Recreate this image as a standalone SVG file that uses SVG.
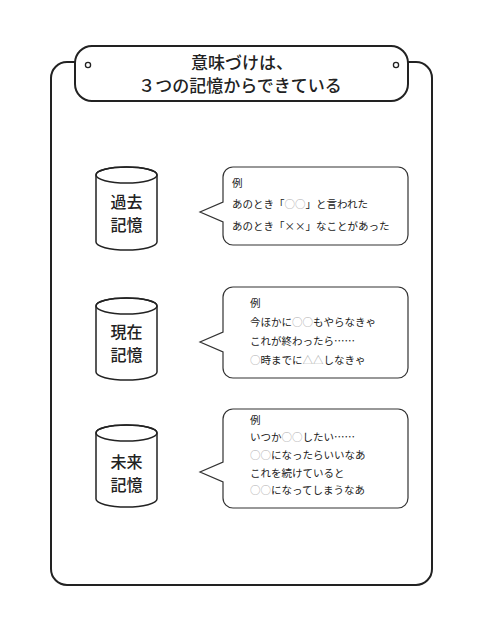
<svg xmlns="http://www.w3.org/2000/svg" width="480" height="639" viewBox="0 0 480 639">
<style>
.jp{font-family:"Noto Sans CJK JP","Noto Sans",sans-serif;fill:#222}
.title{font-size:17px;text-anchor:middle;font-weight:500}
.cyl{fill:#fff;stroke:#222;stroke-width:1.5}
.cl{font-size:16px;text-anchor:middle;font-weight:500}
.bub{fill:#fff;stroke:#333;stroke-width:1.2}
.bt{font-size:10.5px}
.g{fill:#aaa}
</style>
<rect width="480" height="639" fill="#fff"/>
<g id="frame">
<rect x="51" y="62" width="381" height="523" rx="16" fill="#fff" stroke="#222" stroke-width="2"/>
</g>
<g id="header">
<rect x="75" y="46" width="333" height="55" rx="17" fill="#fff" stroke="#222" stroke-width="2"/>
<circle cx="88" cy="65" r="2.6" fill="#fff" stroke="#222" stroke-width="1.3"/>
<circle cx="396" cy="65" r="2.6" fill="#fff" stroke="#222" stroke-width="1.3"/>
<text class="jp title" x="242" y="69">意味づけは、</text>
<text class="jp title" x="240" y="92">３つの記憶からできている</text>
</g>
<g id="past">
<path class="cyl" d="M96,175 L96,242 A30.5,8 0 0 0 157,242 L157,175 A30.5,8 0 0 0 96,175 Z"/>
<ellipse cx="126.5" cy="175" rx="30.5" ry="8" fill="none" stroke="#222" stroke-width="1.5"/>
<text class="jp cl" x="126.5" y="208">過去</text>
<text class="jp cl" x="126.5" y="231">記憶</text>
</g>
<g id="present">
<path class="cyl" d="M96,306 L96,372 A30.5,8 0 0 0 157,372 L157,306 A30.5,8 0 0 0 96,306 Z"/>
<ellipse cx="126.5" cy="306" rx="30.5" ry="8" fill="none" stroke="#222" stroke-width="1.5"/>
<text class="jp cl" x="126.5" y="338">現在</text>
<text class="jp cl" x="126.5" y="361">記憶</text>
</g>
<g id="future">
<path class="cyl" d="M96,433 L96,499 A30.5,8 0 0 0 157,499 L157,433 A30.5,8 0 0 0 96,433 Z"/>
<ellipse cx="126.5" cy="433" rx="30.5" ry="8" fill="none" stroke="#222" stroke-width="1.5"/>
<text class="jp cl" x="126.5" y="468">未来</text>
<text class="jp cl" x="126.5" y="491">記憶</text>
</g>
<g id="bubble-past">
<path class="bub" d="M233,167 H398 A10,10 0 0 1 408,177 V235 A10,10 0 0 1 398,245 H233 A10,10 0 0 1 223,235 V222 L200,212 L223,202 V177 A10,10 0 0 1 233,167 Z"/>
<text class="jp bt" x="232" y="187">例</text>
<text class="jp bt" x="232" y="208">あのとき「<tspan class="g">○○</tspan>」と言われた</text>
<text class="jp bt" x="232" y="230">あのとき「××」なことがあった</text>
</g>
<g id="bubble-present">
<path class="bub" d="M233,287 H398 A10,10 0 0 1 408,297 V368 A10,10 0 0 1 398,378 H233 A10,10 0 0 1 223,368 V352 L200,342 L223,332 V297 A10,10 0 0 1 233,287 Z"/>
<text class="jp bt" x="250" y="307">例</text>
<text class="jp bt" x="250" y="326">今ほかに<tspan class="g">○○</tspan>もやらなきゃ</text>
<text class="jp bt" x="250" y="345">これが終わったら……</text>
<text class="jp bt" x="250" y="364"><tspan class="g">○</tspan>時までに<tspan class="g">△△</tspan>しなきゃ</text>
</g>
<g id="bubble-future">
<path class="bub" d="M233,409 H398 A10,10 0 0 1 408,419 V498 A10,10 0 0 1 398,508 H233 A10,10 0 0 1 223,498 V482 L200,472 L223,462 V419 A10,10 0 0 1 233,409 Z"/>
<text class="jp bt" x="250" y="424">例</text>
<text class="jp bt" x="250" y="441">いつか<tspan class="g">○○</tspan>したい……</text>
<text class="jp bt" x="250" y="459"><tspan class="g">○○</tspan>になったらいいなあ</text>
<text class="jp bt" x="250" y="477">これを続けていると</text>
<text class="jp bt" x="250" y="494"><tspan class="g">○○</tspan>になってしまうなあ</text>
</g>
<g id="connectors"></g>
</svg>
